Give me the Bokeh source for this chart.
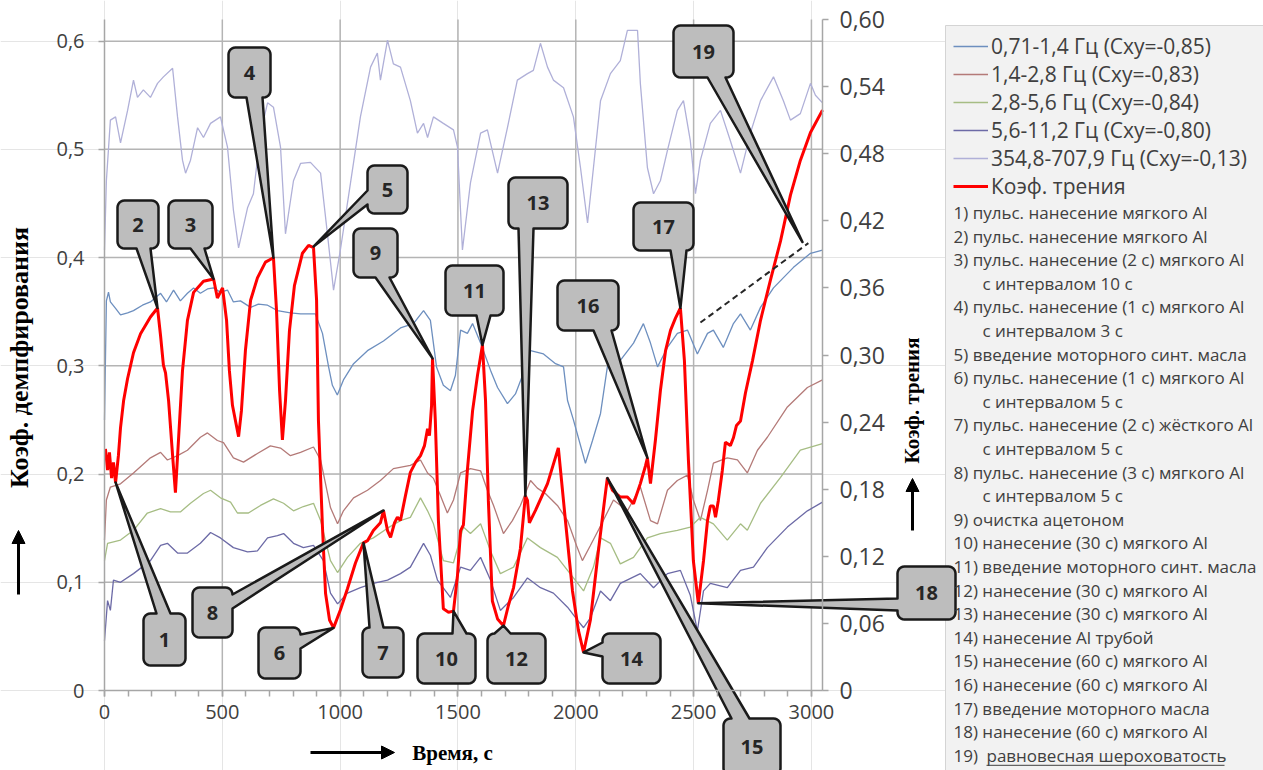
import math
from bokeh.plotting import figure
from bokeh.models import (Range1d, LinearAxis, SingleIntervalTicker, FixedTicker,
                          Legend, LegendItem, Arrow, NormalHead)
from bokeh.core.properties import value
from bokeh.embed import file_html
from bokeh.resources import INLINE

# ---------------- data ----------------
# friction coefficient (right axis)
t_fr = [4, 13, 21, 30, 38, 47, 59, 68, 81, 98,
        123, 153, 195, 225, 238, 250, 259, 272, 289, 301,
        314, 331, 352, 378, 420, 463, 479, 501, 518, 530,
        543, 556, 569, 581, 598, 620, 649, 683, 717, 730,
        743, 755, 768, 785, 806, 840, 866, 887, 900, 908,
        925, 938, 955, 972, 1001, 1031, 1065, 1099, 1116, 1141,
        1171, 1184, 1201, 1214, 1231, 1243, 1256, 1277, 1298, 1320,
        1341, 1358, 1371, 1379, 1388, 1392, 1404, 1417, 1438, 1460,
        1481, 1498, 1511, 1523, 1540, 1562, 1583, 1604, 1617, 1629,
        1646, 1668, 1693, 1714, 1736, 1765, 1782, 1786, 1795, 1803,
        1829, 1880, 1926, 1956, 1986, 2011, 2033, 2062, 2096, 2122,
        2134, 2156, 2189, 2219, 2245, 2274, 2296, 2304, 2317, 2338,
        2359, 2381, 2402, 2423, 2444, 2461, 2478, 2499, 2520, 2542,
        2559, 2571, 2584, 2593, 2605, 2622, 2635, 2656, 2669, 2682,
        2699, 2720, 2750, 2784, 2826, 2869, 2911, 2953, 2996, 3047]
friction = [0.216, 0.197, 0.213, 0.190, 0.204, 0.186, 0.210, 0.235, 0.259, 0.279,
            0.302, 0.319, 0.334, 0.342, 0.317, 0.291, 0.284, 0.259, 0.210, 0.177,
            0.224, 0.286, 0.331, 0.356, 0.366, 0.368, 0.351, 0.360, 0.331, 0.286,
            0.255, 0.241, 0.227, 0.250, 0.304, 0.349, 0.369, 0.383, 0.387, 0.340,
            0.268, 0.224, 0.259, 0.322, 0.362, 0.391, 0.398, 0.396, 0.349, 0.241,
            0.146, 0.087, 0.063, 0.056, 0.072, 0.091, 0.114, 0.132, 0.134, 0.143,
            0.150, 0.161, 0.143, 0.137, 0.150, 0.155, 0.152, 0.174, 0.195, 0.204,
            0.210, 0.219, 0.234, 0.228, 0.255, 0.297, 0.241, 0.152, 0.073, 0.070,
            0.071, 0.103, 0.143, 0.148, 0.197, 0.250, 0.282, 0.309, 0.259, 0.170,
            0.080, 0.064, 0.058, 0.076, 0.092, 0.127, 0.165, 0.174, 0.170, 0.150,
            0.161, 0.185, 0.217, 0.152, 0.089, 0.054, 0.034, 0.063, 0.125, 0.170,
            0.190, 0.179, 0.173, 0.173, 0.167, 0.185, 0.201, 0.208, 0.185, 0.224,
            0.268, 0.304, 0.322, 0.333, 0.342, 0.295, 0.206, 0.116, 0.078, 0.116,
            0.152, 0.165, 0.165, 0.155, 0.170, 0.197, 0.222, 0.219, 0.226, 0.237,
            0.241, 0.266, 0.295, 0.331, 0.367, 0.402, 0.443, 0.474, 0.499, 0.519]

# damping coefficient, 0.71-1.4 Hz
t_071 = [0, 8, 17, 25, 47, 68, 98, 123, 161, 195,
         238, 263, 293, 322, 352, 378, 407, 437, 463, 492,
         522, 547, 577, 620, 653, 692, 734, 789, 832, 895,
         925, 951, 967, 988, 1014, 1057, 1116, 1184, 1256, 1311,
         1354, 1383, 1409, 1438, 1468, 1489, 1511, 1540, 1562, 1596,
         1638, 1668, 1710, 1744, 1774, 1808, 1863, 1914, 1948, 1965,
         1990, 2041, 2071, 2105, 2134, 2189, 2245, 2287, 2317, 2347,
         2389, 2431, 2474, 2516, 2559, 2584, 2626, 2669, 2699, 2741,
         2784, 2839, 2924, 2996, 3047]
d_071 = [0.250, 0.360, 0.368, 0.359, 0.353, 0.347, 0.349, 0.351, 0.356, 0.359,
         0.367, 0.359, 0.370, 0.360, 0.367, 0.372, 0.367, 0.371, 0.372, 0.368,
         0.370, 0.359, 0.360, 0.354, 0.357, 0.356, 0.351, 0.349, 0.348, 0.348,
         0.330, 0.299, 0.282, 0.273, 0.287, 0.302, 0.314, 0.323, 0.335, 0.339,
         0.351, 0.342, 0.299, 0.282, 0.277, 0.291, 0.333, 0.330, 0.339, 0.321,
         0.296, 0.280, 0.265, 0.274, 0.291, 0.314, 0.311, 0.302, 0.299, 0.268,
         0.250, 0.210, 0.231, 0.256, 0.299, 0.305, 0.321, 0.339, 0.321, 0.299,
         0.317, 0.330, 0.333, 0.311, 0.330, 0.333, 0.317, 0.339, 0.348, 0.333,
         0.354, 0.372, 0.391, 0.404, 0.407]

# 1.4-2.8 Hz
t_14 = [0, 8, 25, 68, 123, 195, 238, 267, 310, 352,
        407, 437, 479, 505, 547, 590, 649, 704, 747, 789,
        832, 887, 917, 959, 989, 1014, 1057, 1116, 1171, 1226,
        1298, 1341, 1371, 1396, 1426, 1455, 1481, 1511, 1553, 1596,
        1625, 1651, 1693, 1731, 1765, 1808, 1837, 1871, 1922, 1965,
        2003, 2028, 2062, 2105, 2160, 2219, 2274, 2317, 2347, 2389,
        2431, 2474, 2499, 2529, 2559, 2584, 2643, 2686, 2728, 2771,
        2813, 2898, 2983, 3047]
d_14 = [0.139, 0.176, 0.188, 0.191, 0.201, 0.215, 0.220, 0.213, 0.217, 0.222,
        0.234, 0.238, 0.231, 0.229, 0.215, 0.211, 0.219, 0.226, 0.224, 0.217,
        0.220, 0.225, 0.213, 0.169, 0.154, 0.166, 0.178, 0.185, 0.194, 0.205,
        0.208, 0.213, 0.201, 0.196, 0.180, 0.164, 0.176, 0.201, 0.205, 0.203,
        0.185, 0.171, 0.145, 0.157, 0.171, 0.194, 0.187, 0.182, 0.171, 0.157,
        0.134, 0.120, 0.134, 0.152, 0.176, 0.166, 0.188, 0.157, 0.154, 0.185,
        0.194, 0.199, 0.176, 0.157, 0.185, 0.210, 0.215, 0.213, 0.201, 0.222,
        0.234, 0.262, 0.280, 0.287]

# 2.8-5.6 Hz
t_28 = [0, 13, 68, 123, 182, 238, 280, 322, 365, 420,
        450, 492, 535, 564, 611, 662, 717, 760, 802, 844,
        887, 917, 959, 989, 1031, 1086, 1141, 1201, 1256, 1298,
        1341, 1371, 1396, 1438, 1481, 1523, 1553, 1596, 1638, 1680,
        1736, 1795, 1850, 1922, 1990, 2033, 2075, 2105, 2147, 2189,
        2245, 2304, 2359, 2431, 2486, 2529, 2584, 2643, 2699, 2728,
        2784, 2869, 2953, 3047]
d_28 = [0.120, 0.136, 0.139, 0.148, 0.164, 0.168, 0.165, 0.165, 0.173, 0.182,
        0.185, 0.178, 0.174, 0.164, 0.164, 0.171, 0.177, 0.173, 0.166, 0.170,
        0.173, 0.157, 0.120, 0.109, 0.123, 0.136, 0.141, 0.150, 0.157, 0.160,
        0.178, 0.166, 0.154, 0.120, 0.118, 0.151, 0.145, 0.154, 0.129, 0.108,
        0.114, 0.141, 0.132, 0.123, 0.104, 0.092, 0.114, 0.141, 0.136, 0.117,
        0.123, 0.141, 0.145, 0.148, 0.151, 0.160, 0.154, 0.139, 0.154, 0.148,
        0.173, 0.197, 0.222, 0.228]

# 5.6-11.2 Hz
t_56 = [0, 13, 25, 38, 68, 123, 195, 238, 267, 310,
        352, 407, 450, 492, 547, 607, 649, 692, 734, 760,
        802, 844, 887, 929, 959, 989, 1031, 1086, 1141, 1201,
        1256, 1298, 1354, 1383, 1413, 1468, 1511, 1553, 1596, 1638,
        1680, 1736, 1795, 1850, 1905, 1965, 2007, 2033, 2062, 2105,
        2147, 2189, 2274, 2330, 2389, 2444, 2486, 2516, 2542, 2571,
        2643, 2699, 2754, 2813, 2898, 2983, 3047]
d_56 = [0.046, 0.083, 0.074, 0.102, 0.100, 0.108, 0.120, 0.134, 0.136, 0.127,
        0.127, 0.136, 0.146, 0.141, 0.132, 0.128, 0.129, 0.141, 0.143, 0.145,
        0.136, 0.132, 0.134, 0.120, 0.090, 0.080, 0.090, 0.095, 0.099, 0.102,
        0.108, 0.114, 0.136, 0.125, 0.102, 0.086, 0.114, 0.111, 0.123, 0.102,
        0.074, 0.086, 0.104, 0.095, 0.090, 0.077, 0.065, 0.058, 0.067, 0.092,
        0.083, 0.099, 0.108, 0.095, 0.108, 0.111, 0.088, 0.055, 0.092, 0.099,
        0.095, 0.111, 0.114, 0.132, 0.151, 0.166, 0.174]

# 354.8-707.9 Hz
t_354 = [0, 8, 25, 47, 68, 98, 123, 140, 165, 195,
         225, 250, 289, 310, 331, 344, 365, 395, 420, 450,
         492, 522, 547, 569, 607, 632, 662, 692, 717, 747,
         768, 802, 832, 874, 917, 946, 972, 1001, 1044, 1086,
         1129, 1158, 1171, 1201, 1226, 1256, 1298, 1328, 1354, 1371,
         1396, 1438, 1481, 1498, 1519, 1553, 1596, 1625, 1668, 1710,
         1752, 1795, 1820, 1850, 1880, 1905, 1948, 1990, 2020, 2050,
         2075, 2105, 2147, 2189, 2219, 2262, 2274, 2304, 2330, 2359,
         2389, 2431, 2457, 2486, 2508, 2529, 2571, 2614, 2656, 2699,
         2741, 2784, 2839, 2881, 2911, 2953, 2996, 3017, 3047]
d_354 = [0.407, 0.471, 0.527, 0.530, 0.506, 0.536, 0.564, 0.548, 0.555, 0.548,
         0.561, 0.567, 0.575, 0.530, 0.490, 0.478, 0.490, 0.520, 0.511, 0.524,
         0.530, 0.502, 0.444, 0.409, 0.446, 0.459, 0.515, 0.543, 0.539, 0.502,
         0.422, 0.471, 0.487, 0.488, 0.478, 0.422, 0.370, 0.407, 0.469, 0.530,
         0.576, 0.589, 0.564, 0.601, 0.579, 0.576, 0.545, 0.515, 0.524, 0.511,
         0.530, 0.524, 0.518, 0.502, 0.407, 0.469, 0.515, 0.518, 0.478, 0.520,
         0.564, 0.570, 0.573, 0.598, 0.576, 0.564, 0.557, 0.530, 0.483, 0.432,
         0.483, 0.545, 0.570, 0.582, 0.610, 0.610, 0.561, 0.483, 0.459, 0.471,
         0.499, 0.536, 0.545, 0.508, 0.459, 0.490, 0.524, 0.536, 0.508, 0.478,
         0.515, 0.545, 0.567, 0.545, 0.527, 0.533, 0.561, 0.550, 0.543]

# dashed trend towards equilibrium roughness (friction units)
trend_t = [2529, 2987]
trend_fr = [0.329, 0.400]

# event markers on the friction curve: (number, time, friction)
event_num = list(range(1, 20))
event_t = [47, 225, 463, 717, 887, 972, 1099, 1184, 1392, 1481,
           1604, 1693, 1786, 2033, 2134, 2304, 2444, 2520, 2962]
event_fr = [0.186, 0.342, 0.368, 0.387, 0.397, 0.056, 0.132, 0.161, 0.297, 0.071,
            0.309, 0.058, 0.174, 0.034, 0.190, 0.208, 0.342, 0.078, 0.401]

series_labels = ["0,71-1,4 Гц (Cxy=-0,85)", "1,4-2,8 Гц (Cxy=-0,83)",
                 "2,8-5,6 Гц (Cxy=-0,84)", "5,6-11,2 Гц (Cxy=-0,80)",
                 "354,8-707,9 Гц (Cxy=-0,13)", "Коэф. трения"]

notes = ["1) пульс. нанесение мягкого Al",
         "2) пульс. нанесение мягкого Al",
         "3) пульс. нанесение (2 с) мягкого Al",
         "с интервалом 10 с",
         "4) пульс. нанесение (1 с) мягкого Al",
         "с интервалом 3 с",
         "5) введение моторного синт. масла",
         "6) пульс. нанесение (1 с) мягкого Al",
         "с интервалом 5 с",
         "7) пульс. нанесение (2 с) жёсткого Al",
         "с интервалом 5 с",
         "8) пульс. нанесение (3 с) мягкого Al",
         "с интервалом 5 с",
         "9) очистка ацетоном",
         "10) нанесение (30 с) мягкого Al",
         "11) введение моторного синт. масла",
         "12) нанесение (30 с) мягкого Al",
         "13) нанесение (30 с) мягкого Al",
         "14) нанесение Al трубой",
         "15) нанесение (60 с) мягкого Al",
         "16) нанесение (60 с) мягкого Al",
         "17) введение моторного масла",
         "18) нанесение (60 с) мягкого Al",
         "19) "]
note_last_underlined = "равновесная шероховатость"

x_ticks = [0, 500, 1000, 1500, 2000, 2500, 3000]
y_ticks = [0, 0.1, 0.2, 0.3, 0.4, 0.5, 0.6]
y_tick_labels = ["0", "0,1", "0,2", "0,3", "0,4", "0,5", "0,6"]
yr_ticks = [0, 0.06, 0.12, 0.18, 0.24, 0.3, 0.36, 0.42, 0.48, 0.54, 0.6]
yr_tick_labels = ["0", "0,06", "0,12", "0,18", "0,24", "0,30", "0,36", "0,42",
                  "0,48", "0,54", "0,60"]

# ---------------- layout (pixels) ----------------
W, H = 1263, 770
PL, PR, PT, PB = 104, 822, 19, 690
X_MAX, YL_MAX, YR_MAX = 3047, 0.62, 0.60
sx = (PR - PL) / X_MAX
syl = (PB - PT) / YL_MAX
syr = (PB - PT) / YR_MAX


def X(px):
    return (px - PL) / sx


def Y(py):
    return (PB - py) / syl


def px_t(t):
    return PL + t * sx


def py_fr(v):
    return PB - v * syr


p = figure(width=W, height=H, x_range=Range1d(X(0), X(W)), y_range=Range1d(Y(H), Y(0)),
           output_backend="svg", toolbar_location=None, min_border=0,
           x_axis_location=None, y_axis_location=None, outline_line_color=None,
           background_fill_color="white", border_fill_color="white")
p.extra_y_ranges = {"fr": Range1d((PB - H) / syr, PB / syr)}

AXC = "#a6a6a6"
GRID = "#b4b4b4"
TXT = "#404040"


def style_axis(ax, size="20px"):
    ax.axis_line_color = AXC
    ax.axis_line_width = 1.5
    ax.major_tick_line_color = AXC
    ax.major_tick_line_width = 1.5
    ax.minor_tick_line_color = AXC
    ax.minor_tick_line_width = 1.5
    ax.major_tick_in = 0
    ax.major_tick_out = 6
    ax.minor_tick_in = 0
    ax.minor_tick_out = 6
    ax.major_label_text_font = "Open Sans"
    ax.major_label_text_font_size = size
    ax.major_label_text_color = TXT


# grid lines (only within the plotting area)
vx = x_ticks[1:]
p.segment(x0=vx, y0=[0] * len(vx), x1=vx, y1=[YL_MAX] * len(vx), line_color=GRID, line_width=1.5)
hy = y_ticks[1:]
p.segment(x0=[0] * len(hy), y0=hy, x1=[X_MAX] * len(hy), y1=hy, line_color=GRID, line_width=1.5)

xa = LinearAxis(fixed_location=0, bounds=(0, X_MAX),
                ticker=SingleIntervalTicker(interval=500, num_minor_ticks=5))
style_axis(xa)
xa.major_label_standoff = 8
p.add_layout(xa, "below")

ya = LinearAxis(fixed_location=0, bounds=(0, YL_MAX), ticker=FixedTicker(ticks=y_ticks),
                major_label_overrides=dict(zip(y_ticks, y_tick_labels)))
style_axis(ya)
ya.major_label_standoff = 14
p.add_layout(ya, "left")

yra = LinearAxis(y_range_name="fr", fixed_location=X_MAX, bounds=(0, YR_MAX),
                 ticker=FixedTicker(ticks=yr_ticks),
                 major_label_overrides=dict(zip(yr_ticks, yr_tick_labels)))
style_axis(yra, "23px")
yra.major_label_standoff = 11
p.add_layout(yra, "right")

# series
colors = ["#6d8fbf", "#b47a78", "#a6bd84", "#6c6aa6", "#b0b0d8"]
rends = []
for tt, dd, c in [(t_071, d_071, colors[0]), (t_14, d_14, colors[1]), (t_28, d_28, colors[2]),
                  (t_56, d_56, colors[3]), (t_354, d_354, colors[4])]:
    rends.append(p.line(tt, dd, line_color=c, line_width=1.3))
r_fr = p.line(t_fr, friction, y_range_name="fr", line_color="#ff0000", line_width=3)
rends.append(r_fr)
p.line(trend_t, trend_fr, y_range_name="fr", line_color="#262626", line_width=2, line_dash="6 4")

# legend panel background
p.quad(left=[X(945)], right=[X(W + 5)], top=[Y(25)], bottom=[Y(H + 5)],
       fill_color="#f2f2f2", line_color="#d4d4d4", line_width=1)

# callouts: box (l, t, r, b) in px, side of the pointer, its start and width
boxes = {1: (143, 613, 185, 665, "top", 156, 14), 2: (117, 200, 158, 248, "bottom", 136, 14),
         3: (168, 200, 212, 248, "bottom", 190, 14), 4: (228, 47, 270, 97, "bottom", 246, 16),
         5: (367, 165, 407, 213, "left", 190, 14), 6: (258, 627, 300, 678, "right", 634, 14),
         7: (362, 627, 403, 677, "top", 369, 14), 8: (192, 587, 232, 637, "right", 594, 14),
         9: (353, 228, 397, 277, "bottom", 375, 14), 10: (417, 633, 475, 683, "top", 452, 14),
         11: (445, 265, 503, 315, "bottom", 476, 14), 12: (487, 633, 545, 683, "top", 494, 16),
         13: (508, 177, 567, 228, "bottom", 518, 15), 14: (602, 633, 660, 683, "left", 642, 14),
         15: (723, 718, 780, 775, "top", 731, 18), 16: (557, 280, 618, 330, "bottom", 593, 18),
         17: (633, 202, 693, 250, "bottom", 670, 16), 18: (897, 566, 955, 619, "left", 598, 12),
         19: (673, 25, 733, 77, "bottom", 707, 18)}


def callout_path(l, t, r, b, side, a, w, tip, rad=7):
    def arc(cx, cy, a0, a1, n=6):
        return [(cx + rad * math.cos(math.radians(a0 + (a1 - a0) * k / n)),
                 cy + rad * math.sin(math.radians(a0 + (a1 - a0) * k / n))) for k in range(n + 1)]
    pts = [(l + rad, t)]
    if side == "top":
        pts += [(a, t), tip, (a + w, t)]
    pts += arc(r - rad, t + rad, -90, 0)
    if side == "right":
        pts += [(r, a), tip, (r, a + w)]
    pts += arc(r - rad, b - rad, 0, 90)
    if side == "bottom":
        pts += [(a + w, b), tip, (a, b)]
    pts += arc(l + rad, b - rad, 90, 180)
    if side == "left":
        pts += [(l, a + w), tip, (l, a)]
    pts += arc(l + rad, t + rad, 180, 270)
    return pts


cx_list, cy_list, xs_list, ys_list, lab_list = [], [], [], [], []
for n, et, ef in zip(event_num, event_t, event_fr):
    l, t, r, b, side, a, w = boxes[n]
    tip = (px_t(et), py_fr(ef))
    pts = callout_path(l, t, r, b, side, a, w, tip)
    xs_list.append([X(q[0]) for q in pts])
    ys_list.append([Y(q[1]) for q in pts])
    cx_list.append(X((l + r) / 2))
    cy_list.append(Y((t + b) / 2))
    lab_list.append(str(n))

p.patches(xs=xs_list, ys=ys_list, fill_color="#bdbdbd", line_color="#1a1a1a",
          line_width=2.5, line_join="round")
p.text(x=cx_list, y=cy_list, text=lab_list, text_font=value("Open Sans"),
       text_font_style="bold", text_font_size="20px", text_align="center",
       text_baseline="middle", text_color="#262626")

# notes
nx, ny = [], []
for i, s in enumerate(notes):
    nx.append(X(982) if s.startswith("с интервалом") else X(953))
    ny.append(Y(212 + i * 23.6))
p.text(x=nx, y=ny, text=notes, text_font=value("Open Sans"), text_font_size="17px",
       text_color=TXT, text_baseline="middle", text_align="left")
y19 = 212 + (len(notes) - 1) * 23.6
p.text(x=[X(986)], y=[Y(y19)], text=[note_last_underlined], text_font=value("Open Sans"),
       text_font_size="17px", text_color=TXT, text_baseline="middle", text_align="left")
p.segment(x0=[X(986)], y0=[Y(y19 + 10)], x1=[X(1224)], y1=[Y(y19 + 10)],
          line_color=TXT, line_width=1)

# axis titles
title_font = value("Liberation Serif")
p.text(x=[X(19)], y=[Y(357)], text=["Коэф. демпфирования"], angle=math.pi / 2,
       text_font=title_font, text_font_style="bold", text_font_size="26px",
       text_align="center", text_baseline="middle", text_color="#000000")
p.text(x=[X(911)], y=[Y(400)], text=["Коэф. трения"], angle=math.pi / 2,
       text_font=title_font, text_font_style="bold", text_font_size="21px",
       text_align="center", text_baseline="middle", text_color="#000000")
p.text(x=[X(452)], y=[Y(752)], text=["Время, с"],
       text_font=title_font, text_font_style="bold", text_font_size="21px",
       text_align="center", text_baseline="middle", text_color="#000000")

for (x0, y0, x1, y1) in [(18, 594, 18, 530), (912, 530, 912, 478), (310, 752, 394, 752)]:
    p.add_layout(Arrow(end=NormalHead(size=13, fill_color="#000000", line_color="#000000"),
                       x_start=X(x0), y_start=Y(y0), x_end=X(x1), y_end=Y(y1),
                       line_width=3, line_color="#000000"))

legend = Legend(items=[LegendItem(label=lab, renderers=[rr]) for lab, rr in zip(series_labels, rends)],
                location=(953, H - 200), orientation="vertical", padding=0, margin=0, spacing=0,
                glyph_width=35, glyph_height=20, label_height=20, label_standoff=3,
                label_text_font="Open Sans", label_text_font_size="21px",
                label_text_color=TXT, background_fill_alpha=0, border_line_alpha=0)
p.add_layout(legend)

open("out.html", "w").write(file_html(p, INLINE))
